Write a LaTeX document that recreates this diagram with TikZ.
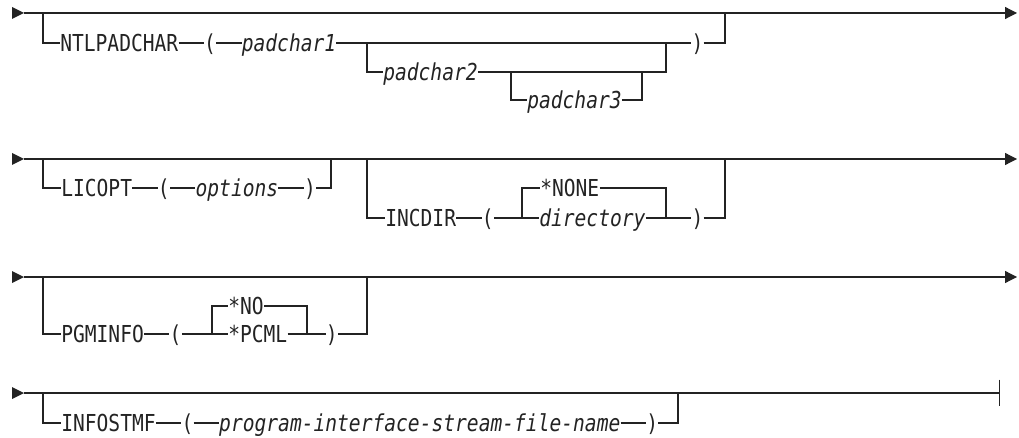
\documentclass[tikz,border=0pt]{standalone}
\usepackage{fontspec}
\usepackage{tikz}
\usetikzlibrary{arrows.meta,positioning}
\newfontfamily\railfont[FakeStretch=0.84]{DejaVu Sans Mono}
\definecolor{rInk}{RGB}{35, 35, 35}

\begin{document}
\begin{tikzpicture}[
    x=0.75pt, y=-0.75pt,
    node distance=19pt,
    % rail line style
    rail/.style={draw=rInk, line width=0.9pt},
    % line that goes on to the next row
    goon/.style={rail, -{Triangle[length=9pt, width=9pt]}},
    % start head
    head/.style={fill=rInk, draw=none},
    % keyword (upright)
    kw/.style={
        inner xsep=0pt, inner ysep=0pt,
        text height=12.8pt, text depth=0pt,
        text=rInk,
        font=\railfont\fontsize{17.5pt}{20pt}\selectfont
    },
    % variable (italic)
    var/.style={kw, font=\railfont\fontsize{17.5pt}{20pt}\selectfont\itshape}
]
    \useasboundingbox (0,0) rectangle (1019,438);

    % --- 1. NTLPADCHAR ---
    \coordinate (s1) at (12,13);
    \coordinate (a1) at (24,13);
    \coordinate (e1) at (1017,13);
    \fill[head] (s1) -- ++(0,-6) -- (a1) -- ++(-12,6) -- cycle;
    \draw[goon] (a1) -- (e1);

    \coordinate (b1) at (43,13);
    \node[kw, anchor=west] (ntl) at (60,43) {NTLPADCHAR};
    \node[kw, right=of ntl] (ntlL) {(};
    \node[var, right=of ntlL] (pc1) {padchar1};
    \coordinate (j1) at (367,43);
    \coordinate (j2) at (666,43);
    \node[kw, right=of j2] (ntlR) {)};
    \coordinate (c1) at (725,13);
    \draw[rail] (b1) |- (ntl.west);
    \draw[rail] (ntl.east) -- (ntlL.west);
    \draw[rail] (ntlL.east) -- (pc1.west);
    \draw[rail] (pc1.east) -- (ntlR.west);
    \draw[rail] (ntlR.east) -| (c1);

    % padchar2 / padchar3
    \node[var, anchor=west] (pc2) at (383,72) {padchar2};
    \coordinate (j3) at (511,72);
    \coordinate (j4) at (642,72);
    \node[var, anchor=west] (pc3) at (527,100) {padchar3};
    \draw[rail] (j1) |- (pc2.west);
    \draw[rail] (pc2.east) -| (j2);
    \draw[rail] (j3) |- (pc3.west);
    \draw[rail] (pc3.east) -| (j4);

    % --- 2. LICOPT and INCDIR ---
    \coordinate (s2) at (12,159);
    \coordinate (a2) at (24,159);
    \coordinate (e2) at (1017,159);
    \fill[head] (s2) -- ++(0,-6) -- (a2) -- ++(-12,6) -- cycle;
    \draw[goon] (a2) -- (e2);

    \coordinate (b2) at (43,159);
    \node[kw, anchor=west] (lic) at (61,188) {LICOPT};
    \node[kw, right=of lic] (licL) {(};
    \node[var, right=of licL] (opt) {options};
    \node[kw, right=of opt] (licR) {)};
    \coordinate (c2) at (331,159);
    \draw[rail] (b2) |- (lic.west);
    \draw[rail] (lic.east) -- (licL.west);
    \draw[rail] (licL.east) -- (opt.west);
    \draw[rail] (opt.east) -- (licR.west);
    \draw[rail] (licR.east) -| (c2);

    \coordinate (b3) at (367,159);
    \node[kw, anchor=west] (inc) at (385,218) {INCDIR};
    \node[kw, right=of inc] (incL) {(};
    \coordinate (j5) at (522,218);
    \node[var, anchor=west] (dir) at (539,218) {directory};
    \coordinate (j6) at (666,218);
    \node[kw, right=of j6] (incR) {)};
    \coordinate (c3) at (725,159);
    \node[kw, anchor=west] (none) at (540,188) {*NONE};
    \draw[rail] (b3) |- (inc.west);
    \draw[rail] (inc.east) -- (incL.west);
    \draw[rail] (incL.east) -- (dir.west);
    \draw[rail] (dir.east) -- (incR.west);
    \draw[rail] (incR.east) -| (c3);
    \draw[rail] (j5) |- (none.west);
    \draw[rail] (none.east) -| (j6);

    % --- 3. PGMINFO ---
    \coordinate (s3) at (12,277);
    \coordinate (a3) at (24,277);
    \coordinate (e3) at (1017,277);
    \fill[head] (s3) -- ++(0,-6) -- (a3) -- ++(-12,6) -- cycle;
    \draw[goon] (a3) -- (e3);

    \coordinate (b4) at (43,277);
    \node[kw, anchor=west] (pgm) at (61,334) {PGMINFO};
    \node[kw, right=of pgm] (pgmL) {(};
    \coordinate (j7) at (212,334);
    \node[kw, anchor=west] (pcml) at (228,334) {*PCML};
    \coordinate (j8) at (307,334);
    \node[kw, right=14pt of j8] (pgmR) {)};
    \coordinate (c4) at (367,277);
    \node[kw, anchor=west] (no) at (228,306) {*NO};
    \draw[rail] (b4) |- (pgm.west);
    \draw[rail] (pgm.east) -- (pgmL.west);
    \draw[rail] (pgmL.east) -- (pcml.west);
    \draw[rail] (pcml.east) -- (pgmR.west);
    \draw[rail] (pgmR.east) -| (c4);
    \draw[rail] (j7) |- (no.west);
    \draw[rail] (no.east) -| (j8);

    % --- 4. INFOSTMF ---
    \coordinate (s4) at (12,393);
    \coordinate (a4) at (24,393);
    \coordinate (e4) at (1000,393);
    \fill[head] (s4) -- ++(0,-6) -- (a4) -- ++(-12,6) -- cycle;
    \draw[rail, -{Bar[width=20pt]}] (a4) -- (e4);
    \coordinate (m1) at (683,393);
    \coordinate (m2) at (707,393);
    \draw[rail, line width=1.5pt] (m1) -- (m2);

    \coordinate (b5) at (43,393);
    \node[kw, anchor=west] (info) at (61,423) {INFOSTMF};
    \node[kw, right=of info] (infoL) {(};
    \node[var, right=of infoL] (pifn) {program-interface-stream-file-name};
    \node[kw, right=of pifn] (infoR) {)};
    \coordinate (c5) at (678,393);
    \draw[rail] (b5) |- (info.west);
    \draw[rail] (info.east) -- (infoL.west);
    \draw[rail] (infoL.east) -- (pifn.west);
    \draw[rail] (pifn.east) -- (infoR.west);
    \draw[rail] (infoR.east) -| (c5);

\end{tikzpicture}
\end{document}
